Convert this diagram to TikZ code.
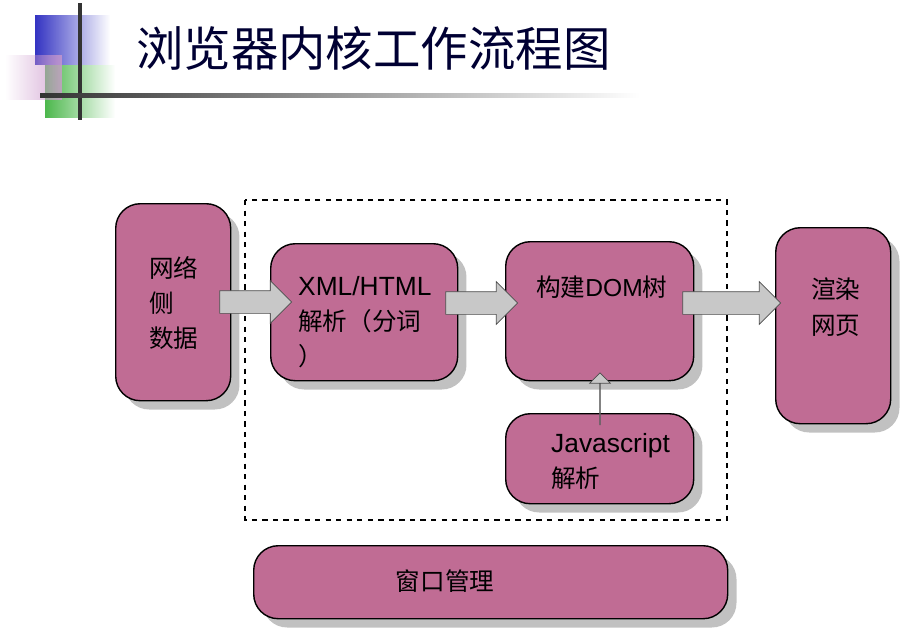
\documentclass[tikz,border=0pt]{standalone}
\usepackage{fontspec}
\setmainfont{Liberation Sans}
\newfontfamily\cjk{Noto Sans CJK SC}
\usetikzlibrary{shapes.arrows,shadows,fadings}
\definecolor{boxpink}{RGB}{192,108,148}
\definecolor{arrowgray}{RGB}{200,200,200}
\tikzset{
  box/.style 2 args={draw=black, thick, fill=boxpink, rounded corners=14pt,
    drop shadow={shadow xshift=5pt, shadow yshift=-5pt, fill=gray!60, opacity=0.8},
    minimum width=#1*0.02cm, minimum height=#2*0.02cm, anchor=north west},
  label text/.style={font=\cjk\fontsize{14}{20}\selectfont, align=left, anchor=north west},
  blockarrow/.style={single arrow, draw=black!70, fill=arrowgray, minimum height=#1*0.02cm,
    single arrow head extend=0.2cm, inner xsep=0pt, inner ysep=0.22cm},
}
\begin{document}
\begin{tikzpicture}[x=0.02cm, y=-0.02cm]
  \useasboundingbox (0,0) rectangle (922,630);
  % title decoration
  \fill[blue!70!black!80, path fading=east] (35,15) rectangle (110,65);
  \fill[green!60!black!70, path fading=east] (45,65) rectangle (115,118);
  \fill[violet!40, opacity=0.8, path fading=west] (5,55) rectangle (62,100);
  \draw[line width=2pt, black!80] (80,3) -- (80,120);
  \shade[left color=black!80, right color=white] (40,93) rectangle (640,97);
  \node[font=\cjk\fontsize{27}{30}\selectfont, anchor=west, text=blue!20!black] (title) at (130,48) {浏览器内核工作流程图};
  % boxes
  \draw[dashed, thick] (245,200) rectangle (727,520);
  \node[box={115}{197}] (net) at (115,203) {};
  \node[label text] (netlabel) at (143,250) {网络\\侧\\数据};
  \node[box={187}{137}] (xml) at (270,243) {};
  \node[label text] (xmllabel) at (292,270) {{\rmfamily\fontsize{15}{20}\selectfont XML/HTML}\\ 解析（分词\\）};
  \node[box={188}{139}] (dom) at (505,241) {};
  \node[label text] (domlabel) at (530,270) {构建{\rmfamily DOM}树};
  \node[box={188}{90}] (js) at (505,413) {};
  \node[label text] (jslabel) at (545,427) {{\rmfamily\fontsize{15}{20}\selectfont Javascript}\\ 解析};
  \node[box={115}{196}] (render) at (775,227) {};
  \node[label text] (renderlabel) at (805,272) {渲染\\网页};
  \node[box={474}{73}] (win) at (253,545) {};
  \node[font=\cjk\fontsize{14}{20}\selectfont] (winlabel) at (445,581) {窗口管理};
  % arrows
  \node[blockarrow=72] (a1) at (250,302) {};
  \node[blockarrow=72] (a2) at (476,303) {};
  \node[blockarrow=98] (a3) at (726,303) {};
  \node[blockarrow=52, shape border rotate=90] (a4) at (600,399) {};
\end{tikzpicture}
\end{document}
